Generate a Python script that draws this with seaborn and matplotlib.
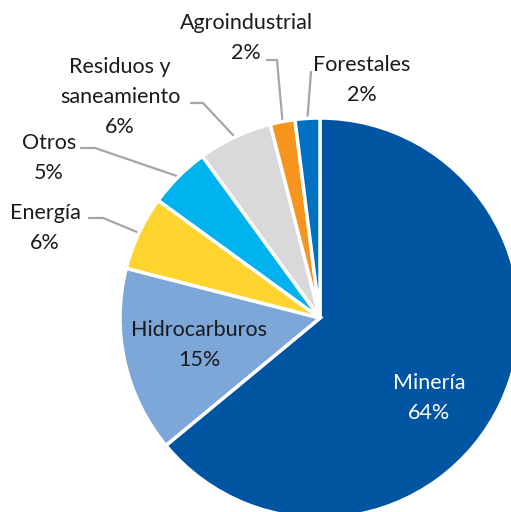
import matplotlib
matplotlib.use("Agg")
import matplotlib.pyplot as plt
import numpy as np
import seaborn as sns

# Datos
sectores = ["Minería", "Hidrocarburos", "Energía", "Otros",
            "Residuos y\nsaneamiento", "Agroindustrial", "Forestales"]
porcentajes = [64, 15, 6, 5, 6, 2, 2]
colores = ["#0055A2", "#7DA7D9", "#FFD42F", "#00B2EE",
           "#D9D9DB", "#F7941E", "#0071C1"]

sns.set_theme(style="white")
plt.rcParams["font.family"] = ["Lato", "DejaVu Sans"]

W, H = 511, 512
CX, CY, R = 320, 318, 200


def px(x, y):
    # pixel -> coordenadas de datos (radio 1)
    return (x - CX) / R, (CY - y) / R


fig = plt.figure(figsize=(W / 100, H / 100), dpi=100)
ax = fig.add_axes([0, 0, 1, 1])

wedges, _ = ax.pie(
    porcentajes,
    colors=colores,
    startangle=90,
    counterclock=False,
    radius=1,
    wedgeprops={"linewidth": 2.5, "edgecolor": "white"},
)

x0, y0 = px(0, H)
x1, y1 = px(W, 0)
ax.set_xlim(x0, x1)
ax.set_ylim(y0, y1)
ax.set_aspect("equal")
ax.axis("off")

txt = dict(fontsize=15.5, color="#1a1a1a", ha="center", va="center", linespacing=1.62)

# etiquetas internas
ax.text(*px(199, 345), f"{sectores[1]}\n{porcentajes[1]}%", **txt)
ax.text(*px(429, 398), f"{sectores[0]}\n{porcentajes[0]}%", color="white",
        **{k: v for k, v in txt.items() if k != "color"})

# etiquetas externas con líneas guía: (posición texto, inicio línea, codo)
externas = {
    2: ((45, 228), (88, 218), (103, 218)),
    3: ((49, 158), (80, 148), (95, 148)),
    4: ((120, 97), (190, 103), (203, 103)),
    5: ((246, 38), (266, 60), (277, 60)),
    6: ((362, 80), (310, 72), (311, 72)),
}
for i, (pos, start, elbow) in externas.items():
    w = wedges[i]
    ang = np.deg2rad((w.theta1 + w.theta2) / 2)
    ex, ey = np.cos(ang), np.sin(ang)
    sx, sy = px(*start)
    bx, by = px(*elbow)
    ax.plot([sx, bx, ex], [sy, by, ey], color="#A6A6A6", lw=1.6,
            solid_capstyle="butt", zorder=0.5)
    ax.text(*px(*pos), f"{sectores[i]}\n{porcentajes[i]}%", **txt)

fig.savefig("out.png", dpi=100, facecolor="white")
